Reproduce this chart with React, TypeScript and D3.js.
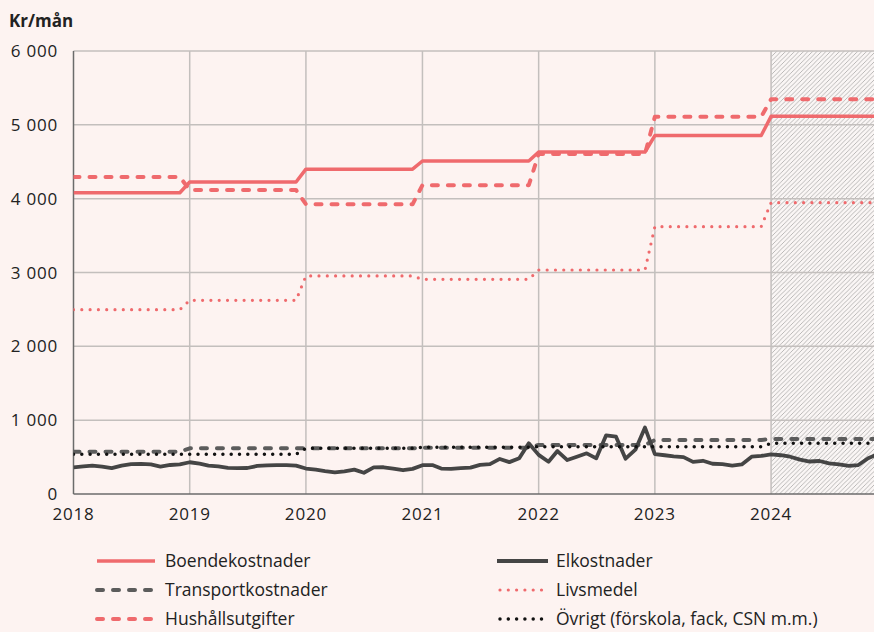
import React, { useEffect, useRef } from 'react';
import * as d3 from 'd3';

// årsvärden (kr/mån), trappsteg per år
const years = [2018, 2019, 2020, 2021, 2022, 2023, 2024];
const boende = [4080, 4225, 4400, 4510, 4632, 4855, 5115];
const hushall = [4294, 4118, 3924, 4183, 4605, 5110, 5346];
const livsmedel = [2497, 2623, 2953, 2908, 3034, 3621, 3946];
const transport = [573, 619, 619, 627, 664, 731, 745];
const ovrigt = [537, 537, 619, 632, 641, 641, 687];

// elkostnader per månad, jan 2018 - dec 2024
const el = [
  362, 375, 383, 370, 350, 385, 405, 408, 400, 372, 393, 400,
  430, 410, 385, 375, 355, 350, 352, 380, 388, 390, 390, 385,
  345, 330, 310, 292, 305, 330, 288, 360, 362, 345, 322, 340,
  390, 392, 345, 340, 350, 358, 395, 405, 475, 432, 483, 687,
  530, 437, 582, 460, 505, 551, 483, 795, 776, 478, 600, 900,
  540, 525, 510, 500, 435, 450, 410, 405, 385, 400, 505, 515,
  537, 525, 505, 465, 440, 447, 415, 400, 380, 392, 485, 540,
];

const yTicks = [0, 1000, 2000, 3000, 4000, 5000, 6000];
const xTicks = [2018, 2019, 2020, 2021, 2022, 2023, 2024];

const PINK = '#ef6a6d';
const DARK = '#454545';
const GRAY = '#5c5c5c';
const FONT = "'Open Sans', sans-serif";

const App = () => {
  const ref = useRef<SVGSVGElement | null>(null);

  useEffect(() => {
    if (ref.current) draw();
  }, []);

  const draw = () => {
    const width = 874;
    const height = 632;
    const svg = d3.select(ref.current);
    svg.selectAll('*').remove();

    const left = 73.5;
    const x = d3.scaleTime()
      .domain([new Date(2018, 0, 1), new Date(2025, 0, 1)])
      .range([left, left + 7 * 116.3]);
    const y = d3.scaleLinear().domain([0, 6000]).range([494, 51]);

    svg.append('rect').attr('width', width).attr('height', height).attr('fill', '#fdf3f1');

    // skraffering för prognosår
    const defs = svg.append('defs');
    const pat = defs.append('pattern')
      .attr('id', 'hatch')
      .attr('patternUnits', 'userSpaceOnUse')
      .attr('width', 4.5)
      .attr('height', 4.5);
    pat.append('rect').attr('width', 4.5).attr('height', 4.5).attr('fill', '#faf6f5');
    pat.append('path')
      .attr('d', 'M-1,1 l2,-2 M0,4.5 l4.5,-4.5 M3.5,5.5 l2,-2')
      .attr('stroke', '#b4b2b1')
      .attr('stroke-width', 0.9);
    const x24 = x(new Date(2024, 0, 1));
    svg.append('rect')
      .attr('x', x24).attr('y', y(6000))
      .attr('width', width - x24).attr('height', y(0) - y(6000))
      .attr('fill', 'url(#hatch)');

    // rutnät
    svg.append('g').selectAll('line').data(yTicks.filter(d => d > 0)).join('line')
      .attr('x1', left).attr('x2', width)
      .attr('y1', d => y(d)).attr('y2', d => y(d))
      .attr('stroke', '#c3bfbd').attr('stroke-width', 1.5);
    svg.append('g').selectAll('line').data(xTicks.slice(1)).join('line')
      .attr('x1', d => x(new Date(d, 0, 1))).attr('x2', d => x(new Date(d, 0, 1)))
      .attr('y1', y(6000)).attr('y2', y(0))
      .attr('stroke', '#c3bfbd').attr('stroke-width', 1.5);

    // axlar
    svg.append('line').attr('x1', left).attr('x2', left).attr('y1', y(6000)).attr('y2', y(0))
      .attr('stroke', '#6b6b6b').attr('stroke-width', 1.5);
    svg.append('line').attr('x1', left).attr('x2', width).attr('y1', y(0)).attr('y2', y(0))
      .attr('stroke', '#6b6b6b').attr('stroke-width', 1.5);

    const fmt = (d: number) => d3.format(',')(d).replace(',', ' ');
    svg.append('g').selectAll('text').data(yTicks).join('text')
      .attr('x', 58).attr('y', d => y(d))
      .attr('dy', '0.36em')
      .attr('text-anchor', 'end')
      .style('font-family', FONT).style('font-size', '17px').style('letter-spacing', '0.8px').style('fill', '#222')
      .text(d => fmt(d));
    svg.append('g').selectAll('text').data(xTicks).join('text')
      .attr('x', d => x(new Date(d, 0, 1))).attr('y', 520)
      .attr('text-anchor', 'middle')
      .style('font-family', FONT).style('font-size', '17px').style('letter-spacing', '0.8px').style('fill', '#222')
      .text(d => d);

    svg.append('text')
      .attr('x', 9).attr('y', 27)
      .style('font-family', FONT).style('font-size', '17px').style('font-weight', 700).style('fill', '#222')
      .text('Kr/mån');

    // månadsserier
    const months = d3.range(years.length * 12).map(i => new Date(years[0] + Math.floor(i / 12), i % 12, 1));
    const monthly = (vals: number[]) => months.map((m, i) => ({ date: m, value: vals[Math.floor(i / 12)] }));
    const line = d3.line<{ date: Date; value: number }>()
      .x(d => x(d.date))
      .y(d => y(d.value));

    const series = [
      { name: 'Boendekostnader', data: monthly(boende), color: PINK, width: 3.5, dash: null, cap: 'butt' },
      { name: 'Transportkostnader', data: monthly(transport), color: GRAY, width: 4, dash: '6 10', cap: 'round' },
      { name: 'Hushållsutgifter', data: monthly(hushall), color: PINK, width: 4, dash: '6 10', cap: 'round' },
      { name: 'Elkostnader', data: months.map((m, i) => ({ date: m, value: el[i] })), color: DARK, width: 3.8, dash: null, cap: 'butt' },
      { name: 'Livsmedel', data: monthly(livsmedel), color: PINK, width: 3.2, dash: '0 8.3', cap: 'round' },
      { name: 'Övrigt (förskola, fack, CSN m.m.)', data: monthly(ovrigt), color: '#111', width: 3.5, dash: '0 8.3', cap: 'round' },
    ];

    const plot = svg.append('g');
    plot.append('clipPath').attr('id', 'clip').append('rect')
      .attr('x', left).attr('y', 0).attr('width', width - left).attr('height', 500);
    series.forEach(s => {
      plot.append('path')
        .datum(s.data)
        .attr('d', line)
        .attr('clip-path', 'url(#clip)')
        .attr('fill', 'none')
        .attr('stroke', s.color)
        .attr('stroke-width', s.width)
        .attr('stroke-linecap', s.cap)
        .attr('stroke-linejoin', 'round')
        .attr('stroke-dasharray', s.dash);
    });

    // legend
    const legendPos = [
      { x: 97, x2: 155, tx: 165, y: 561 },
      { x: 97, x2: 155, tx: 165, y: 590 },
      { x: 97, x2: 155, tx: 165, y: 619 },
      { x: 497, x2: 548, tx: 556, y: 561 },
      { x: 500, x2: 546, tx: 556, y: 590 },
      { x: 500, x2: 546, tx: 556, y: 619 },
    ];
    const legend = svg.append('g');
    series.forEach((s, i) => {
      const p = legendPos[i];
      legend.append('line')
        .attr('x1', p.x).attr('x2', p.x2).attr('y1', p.y).attr('y2', p.y)
        .attr('stroke', s.color)
        .attr('stroke-width', s.width)
        .attr('stroke-linecap', s.cap)
        .attr('stroke-dasharray', s.dash);
      legend.append('text')
        .attr('x', p.tx).attr('y', p.y).attr('dy', '0.36em')
        .style('font-family', FONT).style('font-size', '17.5px').style('fill', '#222')
        .text(s.name);
    });
  };

  return (
    <svg
      ref={ref}
      width={874}
      height={632}
      style={{ position: 'absolute', left: 0, top: 0, display: 'block' }}
    />
  );
};

export default App;
